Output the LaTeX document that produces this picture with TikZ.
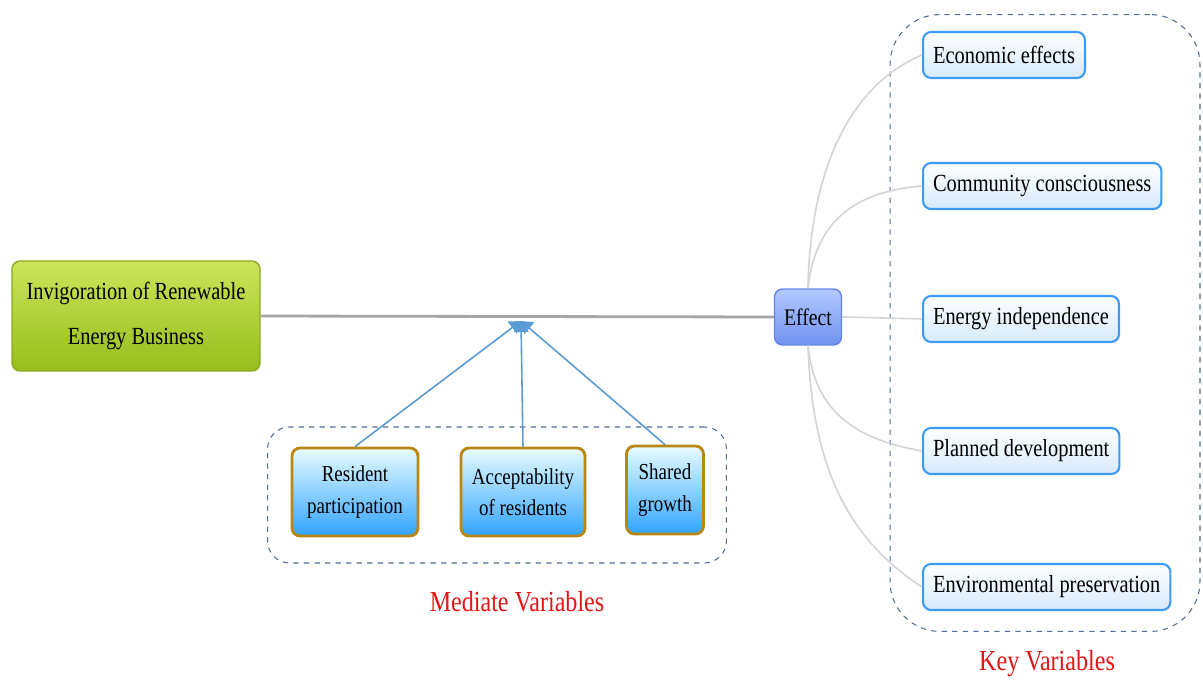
\documentclass[tikz,border=0pt]{standalone}
\usepackage{fontspec}
\setmainfont{Liberation Serif}[FakeStretch=0.83]
\usetikzlibrary{arrows.meta,positioning,fit}
\usepackage{xcolor}

\definecolor{greentop}{RGB}{205,228,90}
\definecolor{greenbot}{RGB}{150,190,28}
\definecolor{greenline}{RGB}{140,170,30}
\definecolor{efftop}{RGB}{178,200,255}
\definecolor{effbot}{RGB}{112,146,240}
\definecolor{effline}{RGB}{100,135,230}
\definecolor{cyantop}{RGB}{232,252,255}
\definecolor{cyanmid}{RGB}{10,222,255}
\definecolor{cyanbot}{RGB}{48,164,255}
\definecolor{goldline}{RGB}{185,135,20}
\definecolor{keybot}{RGB}{214,234,252}
\definecolor{keyline}{RGB}{60,155,245}
\definecolor{groupline}{RGB}{80,110,150}
\definecolor{feedblue}{RGB}{91,155,213}
\definecolor{linkgray}{RGB}{212,212,212}
\definecolor{labelred}{RGB}{230,20,20}

\tikzstyle{link} = [draw=linkgray, line width=0.9pt]

\begin{document}
\begin{tikzpicture}[
    x=0.02cm, y=-0.02cm,
    topic/.style={rectangle, rounded corners=0.16cm, draw=greenline, line width=0.8pt, top color=greentop, bottom color=greenbot, minimum width=4.96cm, minimum height=2.2cm, align=center, font=\fontsize{14}{26}\selectfont},
    effectbox/.style={rectangle, rounded corners=0.16cm, draw=effline, line width=0.8pt, top color=efftop, bottom color=effbot, minimum width=1.34cm, minimum height=1.12cm, font=\fontsize{13.5}{16}\selectfont},
    mediate/.style={rectangle, rounded corners=0.16cm, draw=goldline, line width=1.6pt, top color=cyantop, middle color=cyanmid, bottom color=cyanbot, minimum height=1.76cm, align=center, font=\fontsize{13}{18}\selectfont},
    keyvar/.style={rectangle, rounded corners=0.16cm, draw=keyline, line width=1.2pt, top color=white, bottom color=keybot, minimum height=0.92cm, inner xsep=0.2cm, anchor=west, font=\fontsize{14}{16}\selectfont},
    group/.style={rectangle, draw=groupline, dashed, line width=0.6pt},
    redlabel/.style={text=labelred, font=\fontsize{16.5}{20}\selectfont},
    feed/.style={draw=feedblue, line width=0.9pt, -{Triangle[length=0.22cm, width=0.3cm]}}
]
\useasboundingbox[fill=white] (0,0) rectangle (1203,682);

% Main topic and effect
\node[topic] (main) at (136,316) {Invigoration of Renewable\\Energy Business};
\node[effectbox] (effect) at (808,317) {Effect};
\draw[draw=gray!70, line width=1.6pt] (main.east) -- (effect.west);

% Mediate variables
\node[mediate, minimum width=2.52cm] (resid) at (355,492) {Resident\\participation};
\node[mediate, minimum width=2.48cm] (accept) at (523,492) {Acceptability\\of residents};
\node[mediate, minimum width=1.54cm] (shared) at (665,490) {Shared\\growth};
\node[group, rounded corners=0.44cm, minimum width=9.18cm, minimum height=2.72cm] (medgrp) at (497,495) {};
\node[redlabel] (medlab) at (517,602) {Mediate Variables};

\coordinate (hub) at (521,321);
\draw[feed] (resid.north) -- (hub);
\draw[feed] (accept.north) -- (hub);
\draw[feed] (shared.north) -- (hub);

% Key variables
\node[keyvar] (eco) at (922,55) {Economic effects};
\node[keyvar] (comm) at (922,186) {Community consciousness};
\node[keyvar] (enind) at (922,319) {Energy independence};
\node[keyvar] (plan) at (922,451) {Planned development};
\node[keyvar] (envp) at (922,587) {Environmental preservation};
\node[group, rounded corners=1cm, minimum width=6.2cm, minimum height=12.34cm] (keygrp) at (1045,323) {};
\node[redlabel] (keylab) at (1047,664) {Key Variables};

% Links from effect
\draw[link] (effect.north) .. controls (810,170) and (850,85) .. (eco.west);
\draw[link] (effect.north) .. controls (815,225) and (850,192) .. (comm.west);
\draw[link] (effect.east) -- (enind.west);
\draw[link] (effect.south) .. controls (815,415) and (860,440) .. (plan.west);
\draw[link] (effect.south) .. controls (812,470) and (850,540) .. (envp.west);

\end{tikzpicture}
\end{document}
